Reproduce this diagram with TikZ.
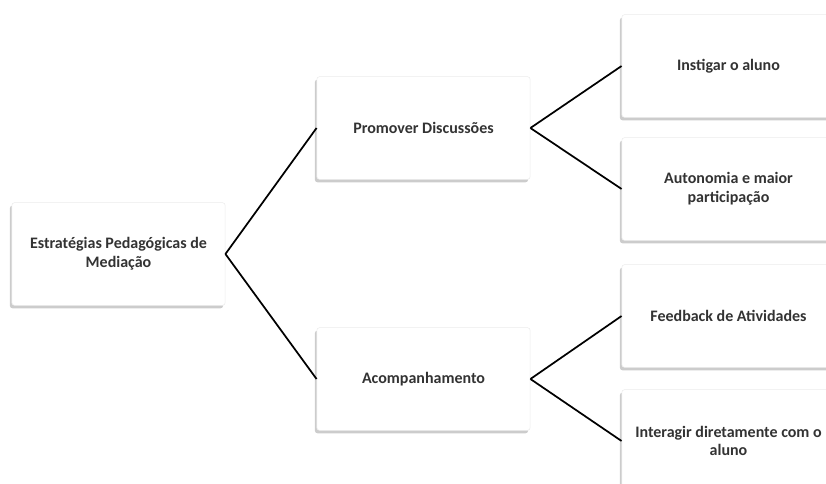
\documentclass[tikz,border=0pt]{standalone}
\usepackage{fontspec}
\setmainfont{Carlito}
\usetikzlibrary{positioning, shadows}

\begin{document}
\begin{tikzpicture}[x=0.75pt, y=-0.75pt,
	box/.style={rectangle, rounded corners=2pt, draw=gray!15, fill=white,
		minimum width=160pt, minimum height=77pt, align=center,
		font=\bfseries\fontsize{12}{14}\selectfont, text=black!80,
		drop shadow={shadow xshift=-1.5pt, shadow yshift=-2.2pt, opacity=0.4, fill=gray}},
	link/.style={line width=1.3pt, black}]
	\useasboundingbox (0,0) rectangle (826,483);
	% tikz code goes here
	\node[box] (est) at (118.5, 254) {Estratégias Pedagógicas de\\Mediação};
	\node[box] (prom) at (423.5, 128) {Promover Discussões};
	\node[box] (acomp) at (423.5, 379) {Acompanhamento};
	\node[box] (inst) at (728.5, 66) {Instigar o aluno};
	\node[box] (auton) at (728.5, 189) {Autonomia e maior\\participação};
	\node[box] (feed) at (728.5, 316) {Feedback de Atividades};
	\node[box] (inter) at (728.5, 441) {Interagir diretamente com o\\aluno};
	\draw[link]	(est.east) -- (prom.west)
			(est.east) -- (acomp.west)
			(prom.east) -- (inst.west)
			(prom.east) -- (auton.west)
			(acomp.east) -- (feed.west)
			(acomp.east) -- (inter.west);
\end{tikzpicture}
\end{document}
